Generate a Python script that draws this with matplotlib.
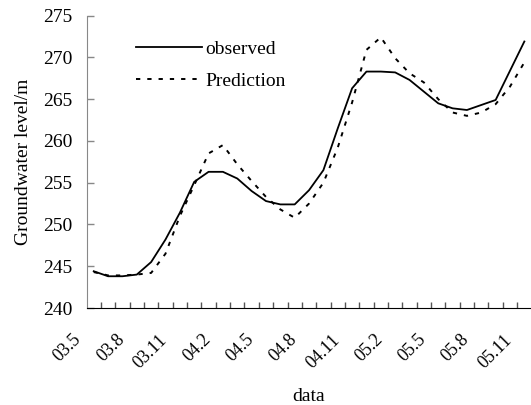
import numpy as np
import matplotlib
matplotlib.use('Agg')
import matplotlib.pyplot as plt
import matplotlib.transforms as mtransforms

plt.rcParams['font.family'] = ['Liberation Serif', 'DejaVu Serif']

# monthly values, 03.5 .. 05.11
observed = [244.4, 243.8, 243.8, 244.0, 245.5, 248.2, 251.4, 255.1, 256.3, 256.3,
            255.5, 254.0, 252.8, 252.4, 252.4, 254.1, 256.5, 261.5, 266.3, 268.3,
            268.3, 268.2, 267.3, 265.9, 264.5, 263.9, 263.7, 264.3, 264.9, 268.4,
            271.9]
prediction = [244.3, 243.9, 243.9, 244.0, 244.2, 246.5, 251.0, 254.7, 258.5, 259.5,
              257.2, 255.2, 253.3, 251.8, 250.8, 252.5, 255.0, 259.2, 264.6, 270.9,
              272.4, 269.9, 268.1, 267.0, 265.0, 263.4, 263.0, 263.4, 264.4, 266.5,
              269.4]
tick_labels = ['03.5', '03.8', '03.11', '04.2', '04.5', '04.8', '04.11',
               '05.2', '05.5', '05.8', '05.11']

x = np.arange(len(observed))

fig = plt.figure(figsize=(5.31, 4.05), dpi=100)
ax = fig.add_axes([0.163, 0.2395, 0.838, 0.722])

ax.plot(x, observed, color='black', lw=1.3, label='observed')
ax.plot(x, prediction, color='black', lw=1.4, ls=(0, (2.2, 3.6)), label='Prediction')

ax.set_xlim(-0.5, len(x) - 0.5)
ax.set_ylim(240, 275)
ax.set_yticks(np.arange(240, 276, 5))

# category boundary ticks, labels every third month
ax.set_xticks(np.arange(0.5, len(x) - 0.5, 1))
ax.set_xticklabels([])
ax.set_xticks(x[::3], minor=True)
ax.set_xticklabels(tick_labels, minor=True, rotation=45, ha='right',
                   va='center', rotation_mode='anchor', fontsize=13)
ax.tick_params(axis='x', which='major', direction='in', length=4, width=1,
               color='#555555')
ax.tick_params(axis='x', which='minor', length=0, pad=21)
ax.tick_params(axis='y', direction='in', length=5, width=1, color='#888888',
               labelsize=14, pad=10)

# shift rotated labels left like the original
shift = mtransforms.ScaledTranslation(-0.15, 0, fig.dpi_scale_trans)
for lab in ax.get_xticklabels(minor=True):
    lab.set_transform(lab.get_transform() + shift)

for s in ['top', 'right']:
    ax.spines[s].set_visible(False)
ax.spines['left'].set_color('#888888')
ax.spines['bottom'].set_color('black')

ax.set_ylabel('Groundwater level/m', fontsize=14, labelpad=8)
ax.set_xlabel('data', fontsize=14)
ax.xaxis.set_label_coords(0.5, -0.272)

ax.legend(loc='upper left', bbox_to_anchor=(0.072, 0.975), frameon=False,
          fontsize=14, handlelength=3.4, handletextpad=0.15, labelspacing=0.72)

fig.savefig('out.png', dpi=100)
